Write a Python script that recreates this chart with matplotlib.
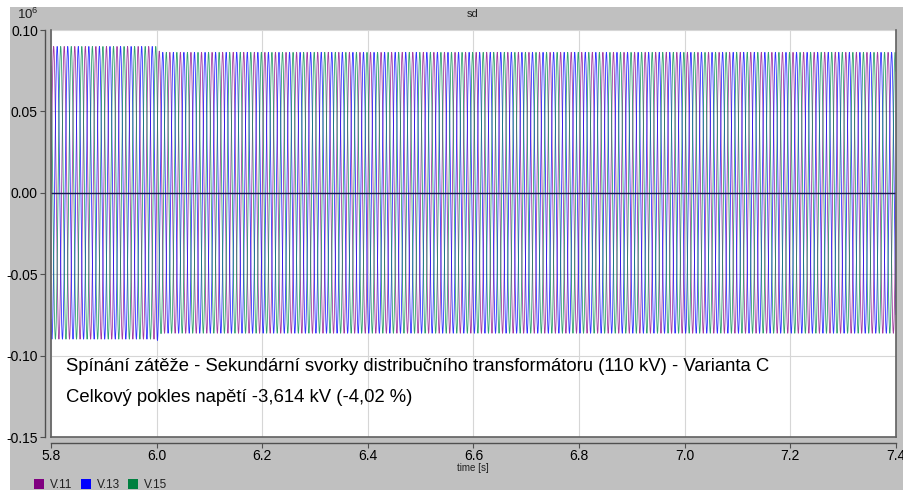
import numpy as np
import matplotlib
matplotlib.use("Agg")
import matplotlib.pyplot as plt
from matplotlib.patches import Rectangle

plt.rcParams['font.family'] = ['Liberation Sans', 'DejaVu Sans']

# Three-phase secondary voltages (instantaneous, in kV) of the distribution transformer
series_names = ["V.11", "V.13", "V.15"]
series_colors = ["#8B0A8B", "#0000FF", "#008A4A"]
legend_colors = ["#800080", "#0000FF", "#008040"]
phase_deg = [0.0, -120.0, 120.0]
freq_hz = 50.0

# Peak-voltage envelope (kV) before and after the load switching at t = 6.0 s
env_time = [5.80, 6.000, 6.001, 6.004, 6.010, 7.40]
env_kv = [89.90, 89.90, 91.50, 87.20, 86.29, 86.29]

t_range = (5.8, 7.4)
y_range = (-0.15, 0.10)
x_ticks = [5.8, 6.0, 6.2, 6.4, 6.6, 6.8, 7.0, 7.2, 7.4]
y_ticks = [-0.15, -0.10, -0.05, 0.00, 0.05, 0.10]

title_text = "sd"
xlabel_text = "time [s]"
note_line1 = "Spínání zátěže - Sekundární svorky distribučního transformátoru (110 kV) - Varianta C"
note_line2 = "Celkový pokles napětí -3,614 kV (-4,02 %)"

W, H = 904, 490
PX = 72 / 100  # points per pixel at 100 dpi
fig = plt.figure(figsize=(W / 100, H / 100), dpi=100)
fig.patch.set_facecolor("#C0C0C0")
# thin white margins along the top and left edges
fig.patches.append(Rectangle((0, 1 - 7 / H), 1, 7 / H, transform=fig.transFigure,
                             facecolor="white", edgecolor="none", zorder=-5))
fig.patches.append(Rectangle((0, 0), 10 / W, 1, transform=fig.transFigure,
                             facecolor="white", edgecolor="none", zorder=-5))

ax = fig.add_axes([51 / W, (H - 437) / H, 845 / W, 407 / H])
ax.set_facecolor("white")

t = np.arange(t_range[0], t_range[1] + 1e-9, 1.0 / 20000)
env = np.interp(t, env_time, env_kv) / 1000.0  # scale to 10^6 V
for name, color, ph in zip(series_names, series_colors, phase_deg):
    ax.plot(t, env * np.sin(2 * np.pi * freq_hz * t + np.deg2rad(ph)),
            color=color, lw=0.6, alpha=0.8, label=name, zorder=2)

ax.axhline(0.0, color="#1A1A50", lw=1.0, zorder=3)

ax.set_xlim(*t_range)
ax.set_ylim(*y_range)
ax.set_xticks(x_ticks)
ax.set_yticks(y_ticks)
ax.set_xticklabels([f"{v:.1f}" for v in x_ticks], fontsize=7.5, color="#202020")
ax.set_yticklabels([f"{v:.2f}" for v in y_ticks], fontsize=7.5, color="#202020")
ax.grid(True, color="#D6D6D6", lw=0.8, zorder=1)
ax.set_axisbelow(True)

for side in ("top", "right"):
    ax.spines[side].set_visible(False)
for side in ("left", "bottom"):
    ax.spines[side].set_position(("outward", 6 * PX))
    ax.spines[side].set_color("#505050")
    ax.spines[side].set_linewidth(1.0)
ax.tick_params(axis="both", direction="out", length=5 * PX, width=0.8, color="#505050", pad=1.5)
ax.tick_params(axis="x", pad=0.8)

# plot-area frame
for xs, ys in (([0, 0], [0, 1]), ([0, 1], [0, 0]), ([1, 1], [0, 1])):
    ax.plot(xs, ys, transform=ax.transAxes, color="#606060", lw=1.2, clip_on=False, zorder=4)

ax.text(0.0178, 0.174, note_line1, transform=ax.transAxes, fontsize=13.3, va="center", ha="left", zorder=5)
ax.text(0.0178, 0.098, note_line2, transform=ax.transAxes, fontsize=13.3, va="center", ha="left", zorder=5)

fig.text(473 / W, 1 - 14 / H, title_text, fontsize=8, ha="center", va="center", color="#202020")
fig.text(473 / W, 1 - 468 / H, xlabel_text, fontsize=7, ha="center", va="center", color="#202020")
fig.text(28 / W, 1 - 14 / H, r"$\mathregular{10^{6}}$", fontsize=9.5, ha="center", va="center",
         color="#202020")

# legend row along the bottom edge
leg_x = [34, 81, 128]
for x0, name, color in zip(leg_x, series_names, legend_colors):
    fig.patches.append(Rectangle((x0 / W, 1 - 489 / H), 10 / W, 10 / H, transform=fig.transFigure,
                                 facecolor=color, edgecolor="none", zorder=2))
    fig.text((x0 + 16) / W, 1 - 484.5 / H, name, fontsize=8.5, ha="left", va="center",
             color="#202020")

fig.savefig("out.png", dpi=100, facecolor=fig.get_facecolor())
